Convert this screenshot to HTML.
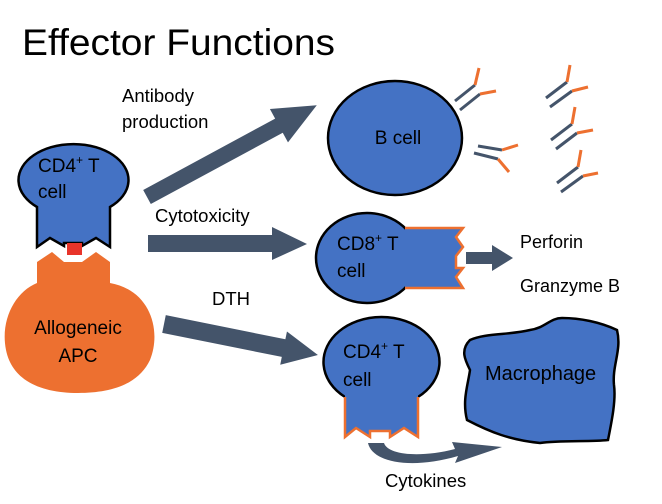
<!DOCTYPE html>
<html><head><meta charset="utf-8"><style>
html,body{margin:0;padding:0;background:#fff;}
svg{display:block;}
text{font-family:"Liberation Sans",sans-serif;fill:#000;}
</style></head><body>
<svg width="662" height="504" viewBox="0 0 662 504" xmlns="http://www.w3.org/2000/svg">
<text x="22" y="55" font-size="37" textLength="313" lengthAdjust="spacingAndGlyphs">Effector Functions</text>

<!-- left APC -->
<path d="M37,283 L37,262 L52,252 L64,262 L82,262 L96,252 L110,262 L110,283 C150,290 162,330 150,360 C138,385 110,393 78,393 C40,393 12,380 6,350 C0,320 15,292 37,283 Z" fill="#ed7030"/>
<text x="78" y="334" font-size="19" text-anchor="middle">Allogeneic</text>
<text x="78" y="362" font-size="19" text-anchor="middle">APC</text>
<!-- left CD4 -->
<path d="M37,207 A55,36 0 1 1 110,207 L110,247 L96,238 L82,246 L82,243 L64,243 L64,246 L50,238 L37,247 Z" fill="#4472c4" stroke="#000" stroke-width="2.5"/>
<rect x="67" y="243" width="15" height="12" fill="#e8342a"/>
<text x="38" y="172" font-size="19">CD4<tspan font-size="12" dy="-8">+</tspan><tspan dy="8"> T</tspan></text>
<text x="38" y="198" font-size="19">cell</text>

<!-- arrows -->
<g fill="#44546a">
<g transform="translate(147,197) rotate(-28.4)"><polygon points="0,-8 150,-8 150,-19 193,0 150,19 150,8 0,8"/></g>
<polygon points="148,235 272,235 272,227 307,244 272,260 272,252 148,252"/>
<g transform="translate(164,324) rotate(11.4)"><polygon points="0,-9 122,-9 122,-17 157,0 122,17 122,9 0,9"/></g>
<polygon points="466,252 492,252 492,245 513,258 492,271 492,264 466,264"/>
</g>
<text x="122" y="102" font-size="18.5">Antibody</text>
<text x="122" y="128" font-size="18.5">production</text>
<text x="155" y="222" font-size="18.5">Cytotoxicity</text>
<text x="212" y="305" font-size="18.5">DTH</text>

<!-- B cell -->
<ellipse cx="395" cy="138" rx="67" ry="57" fill="#4472c4" stroke="#000" stroke-width="2.5"/>
<text x="398" y="144" font-size="19" text-anchor="middle">B cell</text>
<!-- antibodies -->
<g stroke-width="3" fill="none" stroke-linecap="butt">
<g stroke="#44546a">
<line x1="455" y1="101" x2="475" y2="85"/><line x1="460" y1="110" x2="480" y2="94"/>
<line x1="478" y1="146" x2="502" y2="150"/><line x1="474" y1="153" x2="498" y2="159"/>
<line x1="546" y1="98" x2="567" y2="82"/><line x1="550" y1="107" x2="572" y2="91"/>
<line x1="551" y1="140" x2="572" y2="124"/><line x1="556" y1="149" x2="577" y2="133"/>
<line x1="557" y1="183" x2="578" y2="167"/><line x1="561" y1="192" x2="583" y2="176"/>
</g>
<g stroke="#ed7030">
<line x1="475" y1="85" x2="479" y2="68"/><line x1="480" y1="94" x2="496" y2="91"/>
<line x1="502" y1="150" x2="518" y2="145"/><line x1="498" y1="159" x2="509" y2="172"/>
<line x1="567" y1="82" x2="570" y2="65"/><line x1="572" y1="91" x2="588" y2="87"/>
<line x1="572" y1="124" x2="575" y2="107"/><line x1="577" y1="133" x2="593" y2="130"/>
<line x1="578" y1="167" x2="581" y2="150"/><line x1="583" y1="176" x2="598" y2="173"/>
</g>
</g>

<!-- CD8 -->
<ellipse cx="367" cy="258" rx="51" ry="45" fill="#4472c4" stroke="#000" stroke-width="2.5"/>
<path d="M405,228 L463,228 L456,237 L463,247 L456,256 L456,268 L463,268 L456,277 L463,288 L405,288 Z" fill="#4472c4"/>
<path d="M405,228 L463,228 L456,237 L463,247 L456,256 L456,268 L463,268 L456,277 L463,288 L405,288" fill="none" stroke="#ed7030" stroke-width="2.5"/>
<text x="337" y="250" font-size="19">CD8<tspan font-size="12" dy="-8">+</tspan><tspan dy="8"> T</tspan></text>
<text x="337" y="277" font-size="19">cell</text>
<text x="520" y="248" font-size="18">Perforin</text>
<text x="520" y="292" font-size="18">Granzyme B</text>

<!-- lower CD4 -->
<path d="M345,397 A58,45 0 1 1 418,397" fill="#4472c4" stroke="#000" stroke-width="2.5"/>
<path d="M345,394 L345,437 L356,428 L370,437 L370,431 L390,431 L390,437 L404,428 L418,437 L418,394 Z" fill="#4472c4"/>
<path d="M345,397 L345,437 L356,428 L370,437 L370,431 L390,431 L390,437 L404,428 L418,437 L418,397" fill="none" stroke="#ed7030" stroke-width="2.5"/>
<text x="343" y="358" font-size="19">CD4<tspan font-size="12" dy="-8">+</tspan><tspan dy="8"> T</tspan></text>
<text x="343" y="386" font-size="19">cell</text>

<!-- macrophage -->
<path d="M470,340 C485,333 510,335 530,330 C545,328 550,318 562,318 C580,318 600,322 617,330 C622,350 612,365 614,385 C616,400 612,420 608,440 C590,442 560,440 540,443 C510,440 490,432 467,420 C462,400 468,385 470,370 C465,360 460,350 470,340 Z" fill="#4472c4" stroke="#000" stroke-width="2.5"/>
<text x="485" y="380" font-size="20">Macrophage</text>

<!-- curved arrow -->
<path d="M368,443 L384,443 C388,455 420,458 455,449 L452,442 L502,447 L455,463 L458,456 C410,470 372,462 368,443 Z" fill="#44546a"/>
<text x="385" y="487" font-size="18.5">Cytokines</text>
</svg>
</body></html>
